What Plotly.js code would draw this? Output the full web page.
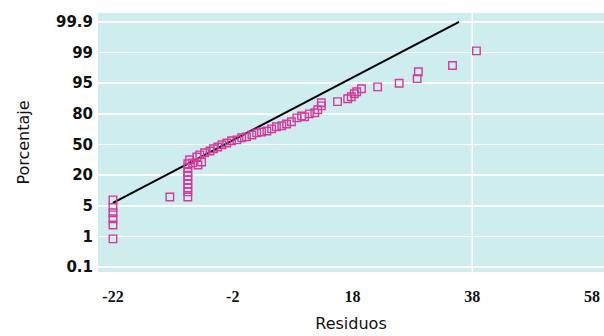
<!DOCTYPE html>
<html>
<head>
<meta charset="utf-8">
<script src="https://cdn.plot.ly/plotly-3.0.1.min.js"></script>
<style>html,body{margin:0;padding:0;background:#fff;}#chart{width:604px;height:336px;}</style>
</head>
<body>
<div id="chart"></div>
<script>
// Percentage tick labels of the probability axis (drawn equally spaced)
const yTickPct = [0.1, 1, 5, 20, 50, 80, 95, 99, 99.9];
const yTickLabels = ['0.1', '1', '5', '20', '50', '80', '95', '99', '99.9'];
const xTickVals = [-22, -2, 18, 38, 58];

// Residuals (x) and their cumulative percentage (y)
const residuos = [
  -22, -22, -22, -22, -22, -22,
  -12.5,
  -9.5, -9.5, -9.5, -9.5, -9.5, -9.5, -9.5, -9.5, -9.5,
  -9.2, -8.7, -8.0, -7.8, -7.5, -7.2, -6.7, -5.8, -5.2, -4.5, -3.8, -3.0,
  -2.2, -1.3, -0.5, 0.3, 1.2, 2.0, 2.8, 3.7, 4.5, 5.3, 6.2, 7.0, 7.8, 8.7,
  9.5, 10.0, 10.8, 11.7, 12.2, 12.8, 12.8, 15.5, 17.2, 17.8, 18.3, 18.7,
  19.5, 22.2, 25.8, 28.8, 29.0, 34.7, 38.7
];
const porcentaje = [
  0.93, 2.5, 3.3, 4.1, 4.8, 7.9,
  9.3,
  9.3, 11.8, 13.7, 15.7, 17.6, 19.6, 23, 27.2, 31.1,
  35, 32, 37.7, 30, 39.8, 32.9, 41.9, 43.7, 45.8, 47.6, 49.7, 51.5,
  53.6, 54.5, 56.6, 57.5, 59.3, 61.4, 62.3, 63.2, 65.3, 67.4, 68.3, 70.1, 72.2, 76.1,
  77.9, 77, 80, 80.5, 82, 83.9, 85.4, 86, 87.4, 88.4, 89.8, 90.8,
  92.3, 93.2, 95.0, 95.6, 96.5, 97.3, 99.05
];

// Reference line end points
const lineX = [-22, 35.8];
const linePct = [6.4, 99.9];

// Probability scale: each labelled percentage sits one unit apart
function pos(p) {
  const t = yTickPct;
  if (p <= t[0]) return (p - t[0]) / (t[1] - t[0]);
  for (let i = 0; i < t.length - 1; i++) {
    if (p <= t[i + 1]) return i + (p - t[i]) / (t[i + 1] - t[i]);
  }
  const n = t.length - 1;
  return n + (p - t[n]) / (t[n] - t[n - 1]);
}
const tickPos = yTickPct.map((_, i) => i);

const traces = [
  {
    x: lineX, y: linePct.map(pos), mode: 'lines', type: 'scatter',
    line: {color: '#000000', width: 2}, hoverinfo: 'skip'
  },
  {
    x: residuos, y: porcentaje.map(pos), mode: 'markers', type: 'scatter',
    marker: {symbol: 'square-open', size: 7.5, color: '#d6399c', line: {width: 1.4, color: '#d6399c'}}
  }
];

const layout = {
  width: 604, height: 336,
  margin: {l: 98, r: 0, t: 13, b: 64},
  paper_bgcolor: '#ffffff',
  plot_bgcolor: '#cdedef',
  showlegend: false,
  xaxis: {
    range: [-24.5, 60],
    tickvals: xTickVals,
    ticktext: xTickVals.map(String),
    showgrid: false, zeroline: false, showline: false, ticks: '',
    ticklabelstandoff: 13,
    tickfont: {family: 'Liberation Serif', size: 16, color: '#111', weight: 'bold'},
    title: {text: 'Residuos', font: {family: 'DejaVu Sans', size: 16, color: '#111'}, standoff: 13}
  },
  yaxis: {
    range: [-0.16, 8.29],
    tickvals: tickPos,
    ticktext: yTickLabels,
    showgrid: true, gridcolor: '#ffffff', gridwidth: 1.5,
    zeroline: false, showline: false, ticks: '',
    ticklabelstandoff: 4,
    tickfont: {family: 'DejaVu Sans', size: 15, color: '#111', weight: 'bold'},
    title: {text: 'Porcentaje', font: {family: 'DejaVu Sans', size: 16, color: '#111'}, standoff: 22}
  },
  shapes: [
    {type: 'line', xref: 'x', yref: 'paper', x0: 38, x1: 38, y0: 0, y1: 1,
     line: {color: '#ffffff', width: 1.5}, layer: 'below'}
  ]
};

Plotly.newPlot('chart', traces, layout, {displayModeBar: false, staticPlot: true});
</script>
</body>
</html>
